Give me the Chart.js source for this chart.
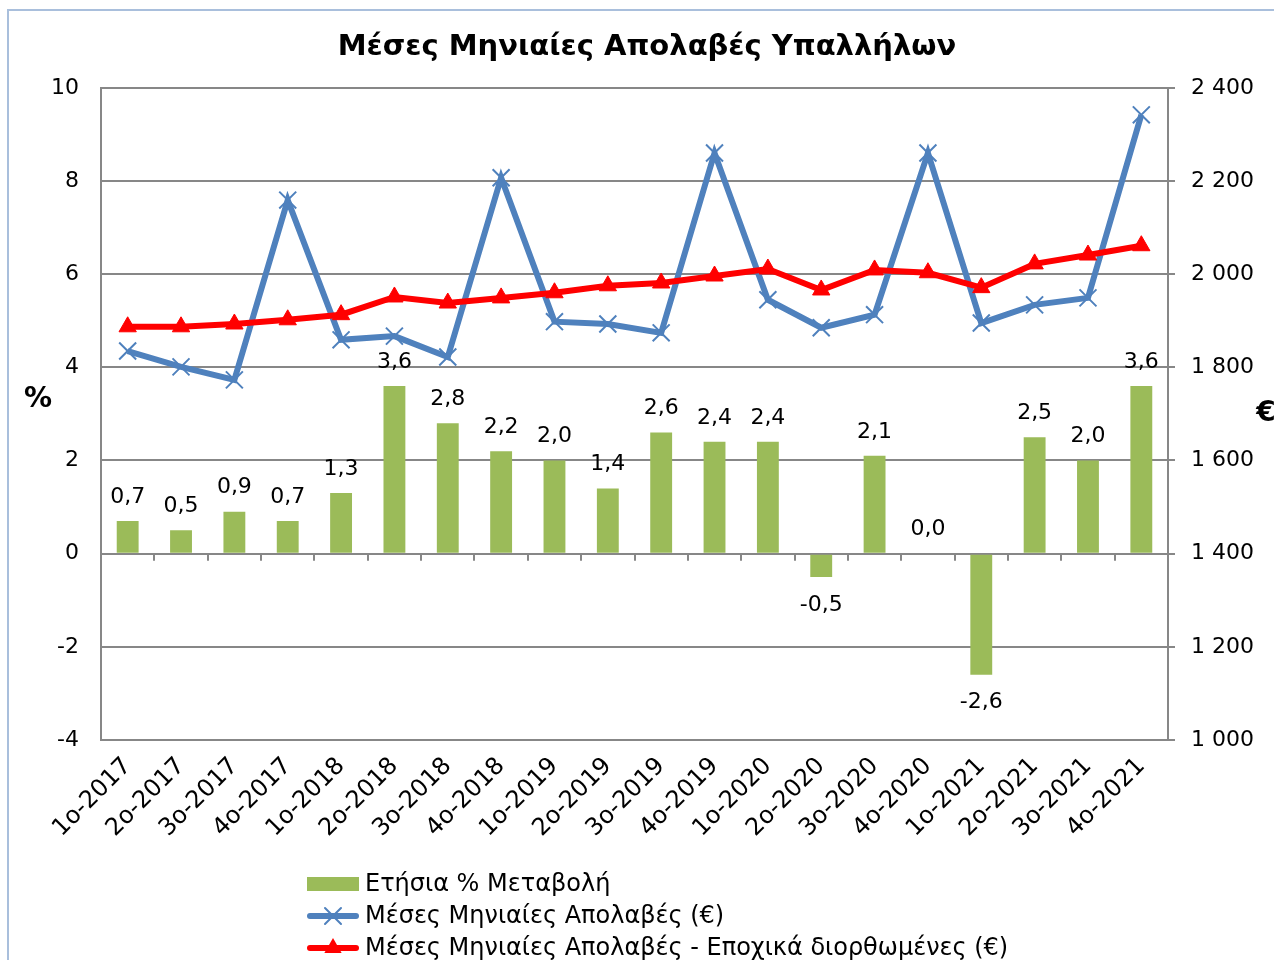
<!DOCTYPE html>
<html>
<head>
<meta charset="utf-8">
<script src="https://cdn.jsdelivr.net/npm/chart.js@4/dist/chart.umd.min.js"></script>
<style>
  html, body { margin: 0; padding: 0; background: #fff; overflow: hidden; }
  #wrap { position: relative; width: 1274px; height: 960px; }
</style>
</head>
<body>
<div id="wrap"><canvas id="earningsChart" width="1274" height="960"></canvas></div>
<script>
const quarters = ['1ο-2017', '2ο-2017', '3ο-2017', '4ο-2017', '1ο-2018', '2ο-2018', '3ο-2018', '4ο-2018',
  '1ο-2019', '2ο-2019', '3ο-2019', '4ο-2019', '1ο-2020', '2ο-2020', '3ο-2020', '4ο-2020',
  '1ο-2021', '2ο-2021', '3ο-2021', '4ο-2021']
const annualChange = [0.7, 0.5, 0.9, 0.7, 1.3, 3.6, 2.8, 2.2, 2.0, 1.4, 2.6, 2.4, 2.4, -0.5, 2.1, 0.0, -2.6, 2.5, 2.0, 3.6]
const avgEarnings = [1835, 1801, 1773, 2159, 1859, 1867, 1822, 2207, 1898, 1893, 1874, 2260, 1945, 1885, 1913, 2260, 1895, 1934, 1949, 2342]
const avgEarningsSA = [1887, 1887, 1893, 1902, 1913, 1951, 1938, 1949, 1960, 1975, 1981, 1996, 2011, 1966, 2009, 2003, 1971, 2022, 2041, 2061]
const percentRange = [-4, 10, 2]
const euroRange = [1000, 2400, 200]

const seriesNames = ['Ετήσια % Μεταβολή', 'Μέσες Μηνιαίες Απολαβές (€)', 'Μέσες Μηνιαίες Απολαβές - Εποχικά διορθωμένες (€)']
const chartTitle = 'Μέσες Μηνιαίες Απολαβές Υπαλλήλων'

const FONT = 'DejaVu Sans'
const GRID = '#878787'
const GREEN = '#9bbb59'
const BLUE = '#4f81bd'
const RED = '#ff0000'

const formatComma = (v) => v.toFixed(1).replace('.', ',')
const formatThousands = (v) => String(v).replace(/\B(?=(\d{3})+(?!\d))/g, ' ')

// outer frame of the chart box
const framePlugin = {
  id: 'frame',
  beforeDraw(chart) {
    const ctx = chart.ctx
    ctx.save()
    ctx.fillStyle = '#fff'
    ctx.fillRect(0, 0, chart.width, chart.height)
    ctx.strokeStyle = '#a9bfdc'
    ctx.lineWidth = 2
    ctx.strokeRect(8, 10, 1400, 1100)
    ctx.restore()
  }
}

// small ticks hanging below the zero line, between categories
const zeroTicksPlugin = {
  id: 'zeroTicks',
  afterDatasetsDraw(chart) {
    const { ctx, scales } = chart
    const y0 = scales.y.getPixelForValue(0)
    ctx.save()
    ctx.strokeStyle = GRID
    ctx.lineWidth = 2
    for (let i = 1; i < quarters.length; i++) {
      const x = Math.round((scales.x.getPixelForValue(i - 1) + scales.x.getPixelForValue(i)) / 2)
      ctx.beginPath()
      ctx.moveTo(x, y0)
      ctx.lineTo(x, y0 + 7)
      ctx.stroke()
    }
    ctx.restore()
  }
}

const barLabelsPlugin = {
  id: 'barLabels',
  afterDatasetsDraw(chart) {
    const ctx = chart.ctx
    const meta = chart.getDatasetMeta(0)
    ctx.save()
    ctx.font = `22px "${FONT}"`
    ctx.fillStyle = '#000'
    ctx.textAlign = 'center'
    ctx.textBaseline = 'middle'
    meta.data.forEach((bar, i) => {
      const v = annualChange[i]
      const y = v < 0 ? bar.y + 28 : bar.y - 24
      ctx.fillText(formatComma(v), bar.x, y)
    })
    ctx.restore()
  }
}

const axisTitlesPlugin = {
  id: 'axisTitles',
  afterDraw(chart) {
    const ctx = chart.ctx
    ctx.save()
    ctx.font = `bold 28px "${FONT}"`
    ctx.fillStyle = '#000'
    ctx.textAlign = 'center'
    ctx.textBaseline = 'middle'
    ctx.fillText('%', 38, 400)
    ctx.fillText('€', 1266, 414)
    ctx.restore()
  }
}

const drawMarker = (ctx, style, x, y) => {
  ctx.beginPath()
  if (style === 'crossRot') {
    const r = 8
    ctx.moveTo(x - r, y - r); ctx.lineTo(x + r, y + r)
    ctx.moveTo(x - r, y + r); ctx.lineTo(x + r, y - r)
    ctx.stroke()
  } else if (style === 'triangle') {
    const r = 10
    ctx.moveTo(x, y - r)
    ctx.lineTo(x + r * 0.866, y + r / 2)
    ctx.lineTo(x - r * 0.866, y + r / 2)
    ctx.closePath()
    ctx.fill()
  }
}

// legend stacked in one column under the axis labels
const columnLegendPlugin = {
  id: 'columnLegend',
  afterDraw(chart) {
    const ctx = chart.ctx
    const left = 307
    const top = 884
    const rowGap = 32
    ctx.save()
    ctx.font = `24px "${FONT}"`
    ctx.textBaseline = 'middle'
    ctx.textAlign = 'left'
    chart.data.datasets.forEach((ds, i) => {
      const y = top + i * rowGap
      if (ds.type === 'line') {
        ctx.strokeStyle = ds.borderColor
        ctx.fillStyle = ds.borderColor
        ctx.lineWidth = 6
        ctx.lineCap = 'round'
        ctx.beginPath()
        ctx.moveTo(left + 3, y)
        ctx.lineTo(left + 49, y)
        ctx.stroke()
        ctx.lineWidth = 2
        drawMarker(ctx, ds.pointStyle, left + 26, y)
      } else {
        ctx.fillStyle = ds.backgroundColor
        ctx.fillRect(left, y - 7, 52, 14)
      }
      ctx.fillStyle = '#000'
      ctx.fillText(ds.label, left + 58, y + 1)
    })
    ctx.restore()
  }
}

new Chart(document.getElementById('earningsChart'), {
  type: 'bar',
  data: {
    labels: quarters,
    datasets: [{
      type: 'bar',
      label: seriesNames[0],
      data: annualChange,
      yAxisID: 'y',
      backgroundColor: GREEN,
      barPercentage: 0.41,
      categoryPercentage: 1,
      order: 2
    }, {
      type: 'line',
      label: seriesNames[1],
      data: avgEarnings,
      yAxisID: 'y1',
      borderColor: BLUE,
      backgroundColor: BLUE,
      borderWidth: 6,
      pointStyle: 'crossRot',
      pointRadius: 12,
      pointBorderWidth: 2,
      tension: 0,
      order: 1
    }, {
      type: 'line',
      label: seriesNames[2],
      data: avgEarningsSA,
      yAxisID: 'y1',
      borderColor: RED,
      backgroundColor: RED,
      borderWidth: 6,
      pointStyle: 'triangle',
      pointRadius: 10,
      pointBorderWidth: 1,
      tension: 0,
      order: 0
    }]
  },
  options: {
    responsive: false,
    animation: false,
    layout: {
      padding: { left: 20, right: 0, top: 0, bottom: 100 }
    },
    plugins: {
      legend: { display: false },
      tooltip: { enabled: false },
      title: {
        display: true,
        text: chartTitle,
        color: '#000',
        font: { family: FONT, size: 29, weight: 'bold', lineHeight: 1.2 },
        padding: { top: 30, bottom: 23 }
      }
    },
    scales: {
      x: {
        grid: { display: false, drawTicks: false },
        border: { display: false },
        ticks: {
          color: '#000',
          font: { family: FONT, size: 24 },
          autoSkip: false,
          minRotation: 45,
          maxRotation: 45,
          padding: 12
        },
        afterFit: (scale) => { scale.height = 120 }
      },
      y: {
        position: 'left',
        min: percentRange[0],
        max: percentRange[1],
        ticks: {
          stepSize: percentRange[2],
          color: '#000',
          font: { family: FONT, size: 22 },
          padding: 22
        },
        grid: { color: GRID, lineWidth: 2, drawTicks: false },
        border: { display: true, color: GRID, width: 2 },
        afterFit: (scale) => { scale.width = 81 }
      },
      y1: {
        position: 'right',
        min: euroRange[0],
        max: euroRange[1],
        ticks: {
          stepSize: euroRange[2],
          color: '#000',
          font: { family: FONT, size: 22 },
          padding: 16,
          callback: (v) => formatThousands(v)
        },
        grid: { drawOnChartArea: false, color: GRID, lineWidth: 2, tickLength: 7 },
        border: { display: true, color: GRID, width: 2 },
        afterFit: (scale) => { scale.width = 106 }
      }
    }
  },
  plugins: [framePlugin, zeroTicksPlugin, barLabelsPlugin, axisTitlesPlugin, columnLegendPlugin]
})
</script>
</body>
</html>
